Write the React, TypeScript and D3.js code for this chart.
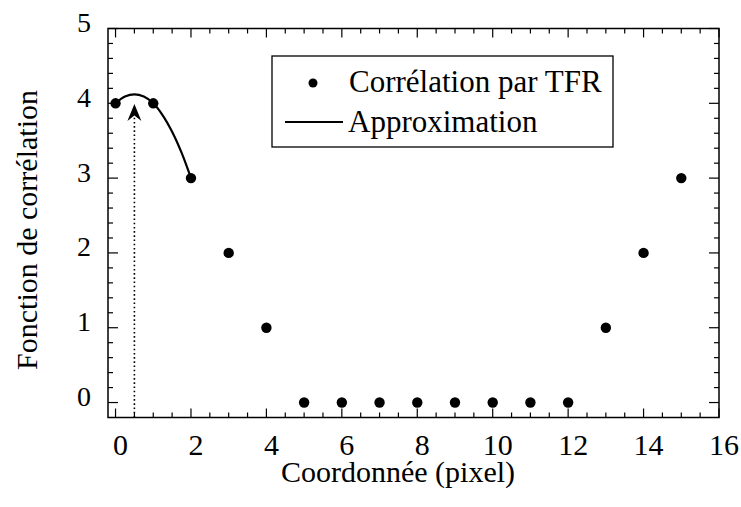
import React from "react";
import * as d3 from "d3";

const pointX = [0, 1, 2, 3, 4, 5, 6, 7, 8, 9, 10, 11, 12, 13, 14, 15];
const pointY = [4, 4, 3, 2, 1, 0, 0, 0, 0, 0, 0, 0, 0, 1, 2, 3];
const approxX = [0, 0.25, 0.5, 0.75, 1, 1.25, 1.5, 1.75, 2];
const approxY = [4, 4.09, 4.12, 4.09, 4, 3.84, 3.62, 3.34, 3];
const arrowX = 0.5;
const arrowY = [-0.2, 3.99];
const xMajor = [0, 2, 4, 6, 8, 10, 12, 14, 16];
const yMajor = [0, 1, 2, 3, 4, 5];
const xTitle = "Coordonnée (pixel)";
const yTitle = "Fonction de corrélation";
const legendLabels = ["Corrélation par TFR", "Approximation"];

const W = 741;
const H = 507;
const M = { left: 108, right: 719, top: 28.5, bottom: 417.5 };
const FONT = "'Liberation Serif', 'Times New Roman', serif";

export default function App() {
  const x = d3.scaleLinear().domain([-0.2, 16]).range([M.left, M.right]);
  const y = d3.scaleLinear().domain([-0.2, 5]).range([M.bottom, M.top]);

  const xMinor = d3.range(0, 16.001, 0.5);
  const yMinor = d3.range(0, 5.001, 0.2).map((v) => Math.round(v * 10) / 10);

  const line = d3
    .line<number>()
    .x((_, i) => x(approxX[i]))
    .y((d) => y(d))
    .curve(d3.curveCatmullRom);

  const ax = x(arrowX);
  const tipY = y(arrowY[1]);

  return (
    <svg
      width={W}
      height={H}
      style={{ position: "absolute", left: 0, top: 0, background: "#fff" }}
      fontFamily={FONT}
    >
      <rect x={0} y={0} width={W} height={H} fill="#fff" />
      {/* ticks */}
      <g stroke="#000" strokeWidth={1.2}>
        {xMinor.map((v) => {
          const major = Math.abs(v % 2) < 1e-6;
          const len = major ? 9 : 5;
          return (
            <g key={"xt" + v}>
              <line x1={x(v)} x2={x(v)} y1={M.bottom} y2={M.bottom - len} />
              <line x1={x(v)} x2={x(v)} y1={M.top} y2={M.top + len} />
            </g>
          );
        })}
        {yMinor.map((v) => {
          const major = Math.abs(v - Math.round(v)) < 1e-6;
          const len = major ? 10 : 5;
          return (
            <g key={"yt" + v}>
              <line x1={M.left} x2={M.left + len} y1={y(v)} y2={y(v)} />
              <line x1={M.right} x2={M.right - len} y1={y(v)} y2={y(v)} />
            </g>
          );
        })}
      </g>
      <rect
        x={M.left}
        y={M.top}
        width={M.right - M.left}
        height={M.bottom - M.top}
        fill="none"
        stroke="#000"
        strokeWidth={1.5}
      />
      {/* tick labels */}
      <g fill="#000">
        {xMajor.map((v) => (
          <text key={"xl" + v} x={x(v) + 5} y={455} textAnchor="middle" fontSize={30}>
            {v}
          </text>
        ))}
        {yMajor.map((v) => (
          <text key={"yl" + v} x={91} y={y(v) + 3.5} textAnchor="end" fontSize={28}>
            {v}
          </text>
        ))}
      </g>
      {/* titles */}
      <text x={398} y={482} fontSize={30} textAnchor="middle">
        {xTitle}
      </text>
      <text
        transform={`translate(36.5,230) rotate(-90)`}
        fontSize={30}
        textAnchor="middle"
      >
        {yTitle}
      </text>
      {/* dotted arrow */}
      <line
        x1={ax}
        x2={ax}
        y1={y(arrowY[0])}
        y2={tipY + 10}
        stroke="#000"
        strokeWidth={1.6}
        strokeDasharray="1.6,2.6"
      />
      <path
        d={`M${ax},${tipY} L${ax + 7},${tipY + 17} L${ax},${tipY + 11.5} L${ax - 7},${tipY + 17} Z`}
        fill="#000"
      />
      {/* approximation curve */}
      <path d={line(approxY) || ""} fill="none" stroke="#000" strokeWidth={2.2} />
      {/* points */}
      <g fill="#000">
        {pointX.map((v, i) => (
          <circle key={"p" + v} cx={x(v)} cy={y(pointY[i])} r={5.2} />
        ))}
      </g>
      {/* legend */}
      <g>
        <rect x={272} y={56} width={341} height={91} fill="#fff" stroke="#000" strokeWidth={1.3} />
        <circle cx={313} cy={83} r={4.5} fill="#000" />
        <text x={349} y={92} fontSize={31}>
          {legendLabels[0]}
        </text>
        <line x1={285} x2={343} y1={122} y2={122} stroke="#000" strokeWidth={2.2} />
        <text x={348} y={132} fontSize={31}>
          {legendLabels[1]}
        </text>
      </g>
    </svg>
  );
}
